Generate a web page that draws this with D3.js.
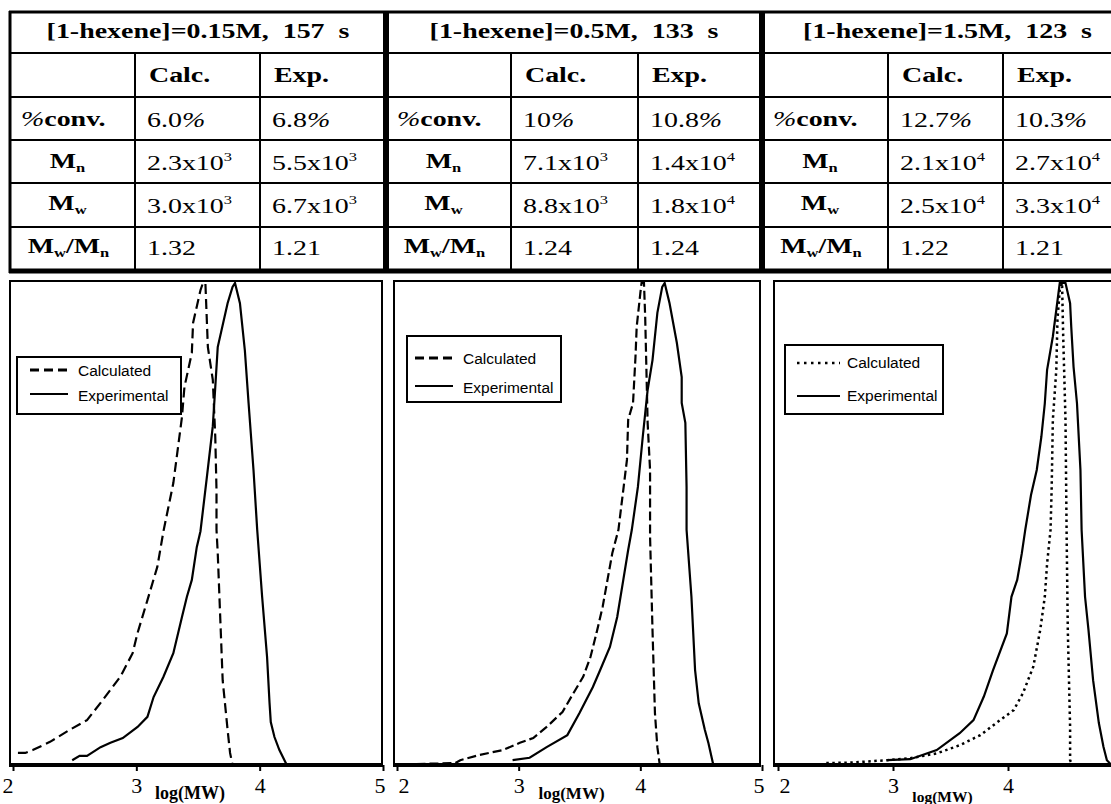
<!DOCTYPE html>
<html>
<head>
<meta charset="utf-8">
<script src="https://cdn.jsdelivr.net/npm/d3@7"></script>
<style>
  body { margin: 0; background: #fff; }
  svg { display: block; }
</style>
</head>
<body>
<svg id="chart" width="1111" height="804"></svg>
<script>
// ---- table contents ----
const panelTitles = ["[1-hexene]=0.15M,  157  s", "[1-hexene]=0.5M,  133  s", "[1-hexene]=1.5M,  123  s"];
const columnHeads = ["Calc.", "Exp."];
const convCalc = ["6.0", "10", "12.7"];
const convExp = ["6.8", "10.8", "10.3"];
const mnCalc = [[2.3, 3], [7.1, 3], [2.1, 4]];
const mnExp = [[5.5, 3], [1.4, 4], [2.7, 4]];
const mwCalc = [[3.0, 3], [8.8, 3], [2.5, 4]];
const mwExp = [[6.7, 3], [1.8, 4], [3.3, 4]];
const pdiCalc = ["1.32", "1.24", "1.22"];
const pdiExp = ["1.21", "1.24", "1.21"];

// ---- molecular weight distributions: [log(MW), normalised height] ----
const xTicks = [2, 3, 4, 5];
const seriesNames = ["Calculated", "Experimental"];

const calc1 = [[2.04,0.025],[2.10,0.025],[2.16,0.031],[2.30,0.048],[2.46,0.073],[2.60,0.093],[2.71,0.129],
  [2.87,0.183],[2.97,0.232],[3.01,0.274],[3.09,0.342],[3.17,0.411],[3.22,0.485],[3.30,0.585],[3.37,0.722],
  [3.39,0.784],[3.45,0.855],[3.46,0.917],[3.52,0.985],[3.54,1.0],[3.56,1.0],[3.58,0.867],[3.62,0.799],
  [3.64,0.681],[3.65,0.571],[3.65,0.488],[3.66,0.440],[3.70,0.176],[3.74,0.073],[3.76,0.025],[3.78,0.0]];
const exp1 = [[2.48,0.010],[2.54,0.019],[2.60,0.019],[2.71,0.037],[2.79,0.046],[2.89,0.056],[3.01,0.079],
  [3.09,0.100],[3.14,0.141],[3.22,0.183],[3.30,0.232],[3.37,0.307],[3.41,0.349],[3.45,0.384],[3.49,0.452],
  [3.52,0.485],[3.57,0.593],[3.62,0.703],[3.64,0.784],[3.66,0.867],[3.74,0.958],[3.78,0.992],[3.80,1.0],
  [3.84,0.958],[3.88,0.860],[3.91,0.751],[3.95,0.612],[3.98,0.488],[4.02,0.349],[4.06,0.224],[4.08,0.129],
  [4.09,0.089],[4.12,0.058],[4.16,0.031],[4.22,0.0]];

const calc2 = [[2.16,0.002],[2.48,0.004],[2.52,0.010],[2.68,0.021],[2.87,0.031],[3.01,0.046],[3.12,0.056],
  [3.23,0.079],[3.36,0.110],[3.45,0.149],[3.53,0.183],[3.59,0.224],[3.64,0.274],[3.69,0.328],[3.73,0.384],
  [3.77,0.440],[3.82,0.488],[3.86,0.571],[3.89,0.633],[3.90,0.716],[3.94,0.751],[3.96,0.846],[3.97,0.909],
  [4.00,0.979],[4.01,1.0],[4.03,1.0],[4.04,0.929],[4.05,0.820],[4.06,0.710],[4.08,0.612],[4.08,0.473],
  [4.10,0.280],[4.12,0.108],[4.14,0.037],[4.16,0.0]];
const exp2 = [[2.95,0.010],[3.09,0.015],[3.23,0.037],[3.40,0.062],[3.50,0.108],[3.61,0.162],[3.67,0.197],
  [3.75,0.245],[3.81,0.307],[3.86,0.384],[3.90,0.446],[3.93,0.488],[3.98,0.577],[4.02,0.681],[4.06,0.778],
  [4.10,0.840],[4.14,0.938],[4.18,0.992],[4.20,1.0],[4.24,0.958],[4.30,0.876],[4.34,0.805],[4.34,0.751],
  [4.37,0.710],[4.38,0.577],[4.38,0.488],[4.42,0.349],[4.45,0.197],[4.48,0.128],[4.53,0.073],[4.56,0.045],
  [4.60,0.0]];

const calc3 = [[2.42,0.004],[2.63,0.005],[2.95,0.010],[3.15,0.014],[3.38,0.024],[3.58,0.041],[3.76,0.062],
  [3.93,0.093],[4.05,0.114],[4.13,0.149],[4.22,0.204],[4.28,0.280],[4.32,0.349],[4.34,0.418],[4.37,0.488],
  [4.38,0.577],[4.39,0.716],[4.42,0.820],[4.43,0.923],[4.45,0.986],[4.47,1.0],[4.48,0.889],[4.50,0.716],
  [4.51,0.474],[4.52,0.280],[4.54,0.079],[4.54,0.010],[4.56,0.0]];
const exp3 = [[2.95,0.010],[3.15,0.012],[3.38,0.031],[3.58,0.066],[3.70,0.093],[3.79,0.142],[3.87,0.197],
  [3.99,0.273],[4.03,0.349],[4.08,0.384],[4.12,0.439],[4.15,0.488],[4.20,0.560],[4.25,0.612],[4.29,0.681],
  [4.32,0.750],[4.34,0.820],[4.39,0.889],[4.42,0.944],[4.45,1.0],[4.50,1.0],[4.54,0.958],[4.55,0.909],
  [4.57,0.826],[4.60,0.750],[4.63,0.612],[4.64,0.488],[4.67,0.349],[4.70,0.280],[4.74,0.176],[4.79,0.087],
  [4.83,0.038],[4.86,0.010],[4.90,0.0]];

const calcSeries = [calc1, calc2, calc3];
const expSeries = [exp1, exp2, exp3];

// ---- layout ----
const W = 1111;
const svg = d3.select("#chart");
const SERIF = "'Liberation Serif', 'Times New Roman', serif";
const SANS = "'Liberation Sans', Arial, sans-serif";
const STRETCH = 1.27;   // the table type is set wide

const rowY = [12, 53, 97, 140, 183, 227, 271];
const panelCols = [[10, 135, 260, 386], [386, 511, 638, 762], [762, 888, 1003, 1125]];

const tbl = svg.append("g").attr("class", "table");

// horizontal rules
rowY.forEach((y, i) => {
  tbl.append("line").attr("x1", 9).attr("x2", W).attr("y1", y).attr("y2", y)
    .attr("stroke", "#000")
    .attr("stroke-width", i === 0 ? 3 : (i === rowY.length - 1 ? 5 : 2));
});
// outer left edge and panel separators
tbl.append("line").attr("x1", 10).attr("x2", 10).attr("y1", 11).attr("y2", 273)
  .attr("stroke", "#000").attr("stroke-width", 3);
[386, 762].forEach(x => {
  tbl.append("line").attr("x1", x).attr("x2", x).attr("y1", 11).attr("y2", 273)
    .attr("stroke", "#000").attr("stroke-width", 6);
});
// inner column rules
panelCols.forEach(c => {
  [c[1], c[2]].forEach(x => {
    tbl.append("line").attr("x1", x).attr("x2", x).attr("y1", rowY[1]).attr("y2", rowY[6])
      .attr("stroke", "#000").attr("stroke-width", 2);
  });
});

function cellText(x, y, anchor, bold) {
  return tbl.append("text")
    .attr("transform", `translate(${x},${y}) scale(${STRETCH},1)`)
    .attr("text-anchor", anchor || "start")
    .attr("font-family", SERIF).attr("font-weight", bold ? "bold" : "normal")
    .attr("font-size", 22).attr("fill", "#000");
}
function addSub(t, s) {
  t.append("tspan").attr("font-size", 13).attr("dy", 4).text(s);
}
function sciValue(x, y, v) {
  const t = cellText(x, y);
  t.append("tspan").text(v[0].toFixed(1) + "x10");
  t.append("tspan").attr("font-size", 13).attr("dy", -9).text(String(v[1]));
}
function pctValue(x, y, v) {
  const t = cellText(x, y);
  t.append("tspan").text(v);
  t.append("tspan").attr("font-style", "italic").text("%");
}

panelCols.forEach((c, p) => {
  cellText((c[0] + c[3]) / 2 + (p === 2 ? 4 : 0), 38, "middle", true)
    .style("white-space", "pre").text(panelTitles[p]);
  cellText(c[1] + 14, 82, "start", true).text(columnHeads[0]);
  cellText(c[2] + 14, 82, "start", true).text(columnHeads[1]);

  // row labels
  const lc = (c[0] + c[1]) / 2;
  const conv = cellText(c[0] + 11, 126, "start", true);
  conv.append("tspan").attr("font-style", "italic").attr("font-weight", "normal").text("%");
  conv.append("tspan").text("conv.");

  const mn = cellText(lc - 5, 168, "middle", true);
  mn.append("tspan").text("M"); addSub(mn, "n");
  const mw = cellText(lc - 5, 210, "middle", true);
  mw.append("tspan").text("M"); addSub(mw, "w");
  const ratio = cellText(lc - 4, 253, "middle", true);
  ratio.append("tspan").text("M"); addSub(ratio, "w");
  ratio.append("tspan").attr("dy", -4).text("/M"); addSub(ratio, "n");

  // values
  const xc = c[1] + 12, xe = c[2] + 12;
  pctValue(xc, 127, convCalc[p]); pctValue(xe, 127, convExp[p]);
  sciValue(xc, 170, mnCalc[p]); sciValue(xe, 170, mnExp[p]);
  sciValue(xc, 213, mwCalc[p]); sciValue(xe, 213, mwExp[p]);
  cellText(xc, 255).text(pdiCalc[p]); cellText(xe, 255).text(pdiExp[p]);
});

// ---- distribution plots ----
const plotTop = 281, plotBottom = 765;
const panels = [
  { left: 10, right: 382, x2: 13, x5: 383, calcDash: "10,5", labelSize: 18, labelY: 799,
    legend: { x: 17, y: 357, w: 164, h: 57, l1: 370, l2: 394, t1: 376, t2: 401, sx: 30, ex: 68, tx: 78 } },
  { left: 394, right: 760, x2: 397, x5: 762, calcDash: "9,4", labelSize: 17, labelY: 799,
    legend: { x: 407, y: 336, w: 154, h: 66, l1: 358, l2: 386, t1: 364, t2: 393, sx: 415, ex: 453, tx: 463 } },
  { left: 774, right: 1140, x2: 778, x5: 1123, calcDash: "2.5,3.5", labelSize: 15.5, labelY: 802,
    legend: { x: 785, y: 345, w: 158, h: 69, l1: 363, l2: 396, t1: 368, t2: 401, sx: 797, ex: 840, tx: 847 } }
];

panels.forEach((pn, p) => {
  const g = svg.append("g").attr("class", "plot");
  const x = d3.scaleLinear().domain([xTicks[0], xTicks[xTicks.length - 1]]).range([pn.x2, pn.x5]);
  const y = d3.scaleLinear().domain([0, 1]).range([plotBottom, plotTop + 2]);

  g.append("rect").attr("x", pn.left).attr("y", plotTop)
    .attr("width", pn.right - pn.left).attr("height", plotBottom - plotTop)
    .attr("fill", "#fff").attr("stroke", "#000").attr("stroke-width", 2);

  const line = d3.line().x(d => x(d[0])).y(d => y(d[1]));

  g.append("path").datum(calcSeries[p]).attr("d", line)
    .attr("fill", "none").attr("stroke", "#000").attr("stroke-width", p === 2 ? 2.5 : 2.2)
    .attr("stroke-dasharray", pn.calcDash);
  g.append("path").datum(expSeries[p]).attr("d", line)
    .attr("fill", "none").attr("stroke", "#000").attr("stroke-width", 2.2);

  // bottom axis (only ticks that fall inside the page)
  const shown = xTicks.filter(t => x(t) <= W - 4);
  const axis = d3.axisBottom(x).tickValues(shown).tickSize(6).tickSizeOuter(0).tickFormat(d3.format("d"));
  const ag = g.append("g").attr("transform", `translate(0,${plotBottom})`).call(axis);
  ag.select(".domain").remove();
  ag.selectAll(".tick line").attr("stroke-width", 2);
  ag.selectAll(".tick text")
    .attr("font-family", SERIF).attr("font-size", 22).attr("fill", "#000")
    .attr("dy", null).attr("y", 28)
    .attr("text-anchor", d => {
      if (d === 5) return "end";
      if (d === 2) return p === 0 ? "end" : "start";
      return "middle";
    })
    .attr("dx", d => (d === 5 ? 2 : (d === 2 ? (p === 0 ? 0 : 1) : 0)));
  g.append("line").attr("x1", pn.left - 1).attr("x2", Math.min(pn.right + 1, W))
    .attr("y1", plotBottom).attr("y2", plotBottom)
    .attr("stroke", "#000").attr("stroke-width", 4);

  g.append("text").attr("x", (x(3) + x(4)) / 2 - 8).attr("y", pn.labelY).attr("text-anchor", "middle")
    .attr("font-family", SERIF).attr("font-weight", "bold").attr("font-size", pn.labelSize)
    .attr("fill", "#000").text("log(MW)");

  // legend
  const L = pn.legend;
  const lg = g.append("g").attr("class", "legend");
  lg.append("rect").attr("x", L.x).attr("y", L.y).attr("width", L.w).attr("height", L.h)
    .attr("fill", "#fff").attr("stroke", "#000").attr("stroke-width", 2);
  lg.append("line").attr("x1", L.sx).attr("x2", L.ex).attr("y1", L.l1).attr("y2", L.l1)
    .attr("stroke", "#000").attr("stroke-width", p === 2 ? 2.5 : 3)
    .attr("stroke-dasharray", p === 2 ? "2.5,4.5" : "9,5");
  lg.append("line").attr("x1", L.sx).attr("x2", L.ex).attr("y1", L.l2).attr("y2", L.l2)
    .attr("stroke", "#000").attr("stroke-width", 2);
  seriesNames.forEach((name, i) => {
    lg.append("text").attr("x", L.tx).attr("y", i === 0 ? L.t1 : L.t2)
      .attr("font-family", SANS).attr("font-size", 15.5).attr("fill", "#000").text(name);
  });
});
</script>
</body>
</html>
